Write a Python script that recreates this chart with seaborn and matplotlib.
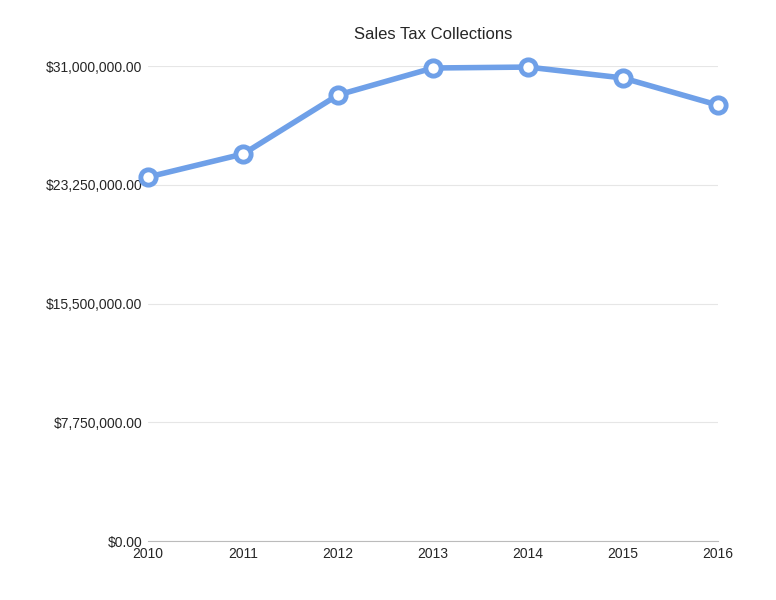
import matplotlib
matplotlib.use("Agg")
import matplotlib.pyplot as plt
import seaborn as sns
import pandas as pd

years = [2010, 2011, 2012, 2013, 2014, 2015, 2016]
sales_tax = [23760000, 25260000, 29110000, 30870000, 30930000, 30220000, 28450000]
yticks = [0, 7750000, 15500000, 23250000, 31000000]

df = pd.DataFrame({"year": years, "tax": sales_tax})
sns.set_style("white")
plt.rcParams['font.family'] = ['Liberation Sans', 'DejaVu Sans']

fig = plt.figure(figsize=(7.76, 6), dpi=100)
ax = fig.add_axes([0.191, 0.098, 0.734, 0.792])
sns.lineplot(data=df, x="year", y="tax", ax=ax, color="#6fa0e8", linewidth=4,
             marker="o", markersize=11, markerfacecolor="white",
             markeredgecolor="#6fa0e8", markeredgewidth=3.5, clip_on=False, zorder=5)
ax.set_xlim(2010, 2016)
ax.set_ylim(0, 31000000)
ax.set_yticks(yticks)
ax.set_yticklabels([f"${v:,.2f}" for v in yticks], fontsize=10)
ax.set_xticks(years)
ax.set_xticklabels([str(y) for y in years], fontsize=10)
ax.yaxis.grid(True, color="#e6e6e6", linewidth=0.8)
for s in ["top", "right", "left"]:
    ax.spines[s].set_visible(False)
ax.spines["bottom"].set_color("#bbbbbb")
ax.tick_params(axis="both", length=0, pad=4)
ax.set_xlabel("")
ax.set_ylabel("")
fig.text(0.558, 0.935, "Sales Tax Collections", ha="center", fontsize=12)
fig.savefig("out.png", dpi=100)
